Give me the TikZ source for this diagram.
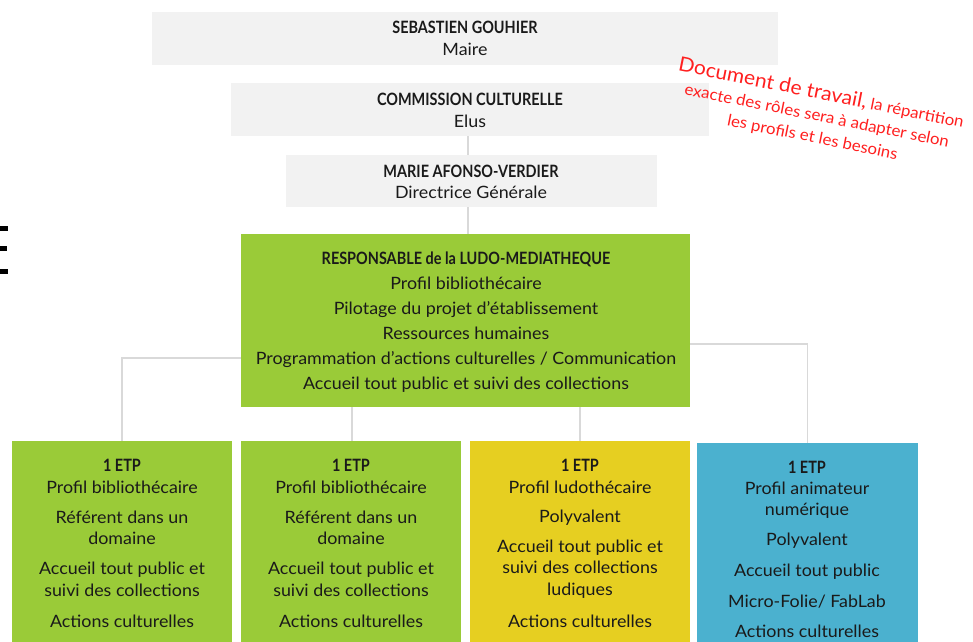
\documentclass[tikz,border=0pt]{standalone}
\usepackage{fontspec}
\setmainfont{Lato}[FakeStretch=1.05]
\newfontfamily\hdfont{Lato}[FakeStretch=0.85]
\definecolor{graybg}{HTML}{F2F2F2}
\definecolor{greenbg}{HTML}{9ACB38}
\definecolor{yellowbg}{HTML}{E6CF21}
\definecolor{bluebg}{HTML}{4BB1CF}
\definecolor{connc}{HTML}{D9D9D9}
\definecolor{redtxt}{HTML}{FF1F1F}
\definecolor{txtc}{HTML}{1A1A1A}
\tikzset{
  box/.style={rectangle, inner sep=0pt, draw=none},
  tx/.style={anchor=base, inner sep=0pt, text=txtc, font=\fontsize{17}{20}\selectfont},
  hd/.style={anchor=base, inner sep=0pt, text=txtc, font=\hdfont\bfseries\fontsize{17}{20}\selectfont},
  conn/.style={draw=connc, line width=1.8pt},
}
\begin{document}
\begin{tikzpicture}[x=1pt,y=-1pt]
\useasboundingbox (0,0) rectangle (973,641);
\clip (0,0) rectangle (973,641);
% fragment at left edge
\fill[black] (0,226) rectangle (8,231);
\fill[black] (0,246) rectangle (7,251);
\fill[black] (0,269) rectangle (8,274);
% top boxes
\node[box, fill=graybg, minimum width=626pt, minimum height=53pt] (maire) at (465,38.5) {};
\node[box, fill=graybg, minimum width=478pt, minimum height=53pt] (comm) at (470,109.5) {};
\node[box, fill=graybg, minimum width=371pt, minimum height=52pt] (dg) at (471.5,181) {};
\node[box, fill=greenbg, minimum width=449pt, minimum height=173pt] (resp) at (465.5,320.5) {};
% children
\node[box, fill=greenbg, minimum width=220pt, minimum height=220pt] (c1) at (122,551) {};
\node[box, fill=greenbg, minimum width=220pt, minimum height=220pt] (c2) at (351,551) {};
\node[box, fill=yellowbg, minimum width=220pt, minimum height=220pt] (c3) at (580,551) {};
\node[box, fill=bluebg, minimum width=221pt, minimum height=220pt] (c4) at (807.5,553) {};
% connectors
\coordinate (lj) at (123,358);
\coordinate (rj) at (809,344);
\draw[conn] (comm.south -| 468,0) -- (dg.north -| 468,0);
\draw[conn] (dg.south -| 468,0) -- (resp.north -| 468,0);
\draw[conn] (resp.west |- lj) -| (c1.north);
\draw[conn] (resp.east |- rj) -| (c4.north);
\draw[conn] (resp.south -| 352,0) -- (c2.north -| 352,0);
\draw[conn] (resp.south -| 580,0) -- (c3.north);
% texts top
\node[hd] (t1a) at (465,33) {SEBASTIEN GOUHIER};
\node[tx] (t1b) at (465,55) {Maire};
\node[hd] (t2a) at (470,105) {COMMISSION CULTURELLE};
\node[tx] (t2b) at (470,127) {Elus};
\node[hd] (t3a) at (471,177) {MARIE AFONSO-VERDIER};
\node[tx] (t3b) at (471,198) {Directrice Générale};
% responsable
\node[hd] (r0) at (466,264) {RESPONSABLE de la LUDO-MEDIATHEQUE};
\node[tx] (r1) at (466,289) {Profil bibliothécaire};
\node[tx] (r2) at (466,314) {Pilotage du projet d’établissement};
\node[tx] (r3) at (466,339) {Ressources humaines};
\node[tx] (r4) at (466,364) {Programmation d’actions culturelles / Communication};
\node[tx] (r5) at (466,389) {Accueil tout public et suivi des collections};
% child 1
\node[hd] (a0) at (122,471) {1 ETP};
\node[tx] (a1) at (122,493) {Profil bibliothécaire};
\node[tx] (a2) at (122,523) {Référent dans un};
\node[tx] (a3) at (122,544) {domaine};
\node[tx] (a4) at (122,574) {Accueil tout public et};
\node[tx] (a5) at (122,596) {suivi des collections};
\node[tx] (a6) at (122,627) {Actions culturelles};
% child 2
\node[hd] (b0) at (351,471) {1 ETP};
\node[tx] (b1) at (351,493) {Profil bibliothécaire};
\node[tx] (b2) at (351,523) {Référent dans un};
\node[tx] (b3) at (351,544) {domaine};
\node[tx] (b4) at (351,574) {Accueil tout public et};
\node[tx] (b5) at (351,596) {suivi des collections};
\node[tx] (b6) at (351,627) {Actions culturelles};
% child 3
\node[hd] (y0) at (580,471) {1 ETP};
\node[tx] (y1) at (580,493) {Profil ludothécaire};
\node[tx] (y2) at (580,522) {Polyvalent};
\node[tx] (y3) at (580,552) {Accueil tout public et};
\node[tx] (y4) at (580,573) {suivi des collections};
\node[tx] (y5) at (580,595) {ludiques};
\node[tx] (y6) at (580,627) {Actions culturelles};
% child 4
\node[hd] (z0) at (807,473) {1 ETP};
\node[tx] (z1) at (807,494) {Profil animateur};
\node[tx] (z2) at (807,515) {numérique};
\node[tx] (z3) at (807,545) {Polyvalent};
\node[tx] (z4) at (807,576) {Accueil tout public};
\node[tx] (z5) at (807,607) {Micro-Folie/ FabLab};
\node[tx] (z6) at (807,637) {Actions culturelles};
% red note
\node[rotate=-11.3, align=center, text=redtxt, inner sep=0pt, font=\fontsize{16}{22}\selectfont] (note) at (817,115)
  {{\fontsize{20}{22}\selectfont Document de travail,} la répartition\\
   exacte des rôles sera à adapter selon\\
   les profils et les besoins};
\end{tikzpicture}
\end{document}
